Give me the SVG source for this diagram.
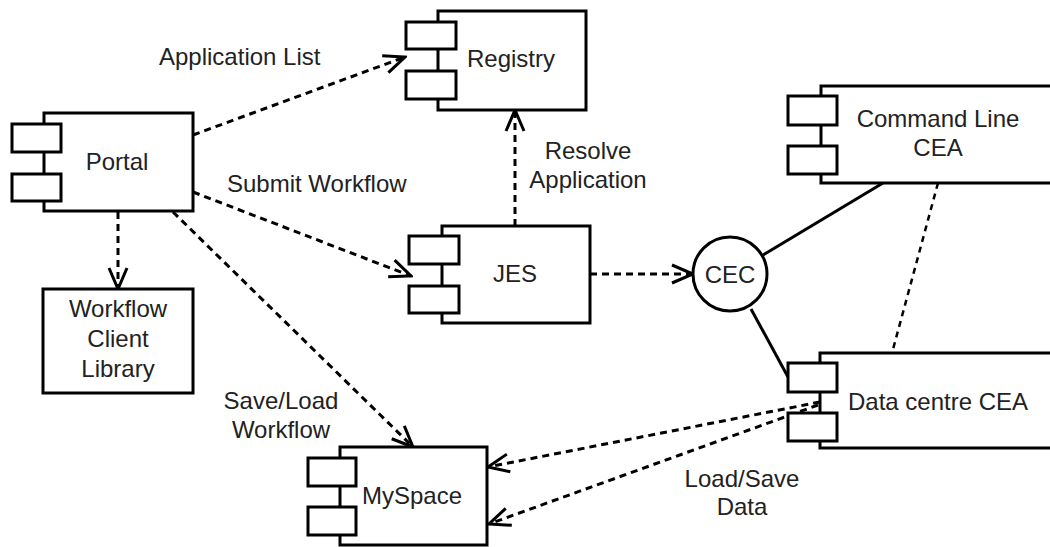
<svg xmlns="http://www.w3.org/2000/svg" width="1050" height="547" viewBox="0 0 1050 547">
<style>
.box{fill:#fff;stroke:#000;stroke-width:3}
.t{font-family:"Liberation Sans",Arial,sans-serif;font-size:24px;fill:#222}
.m{text-anchor:middle}
.dash{fill:none;stroke:#000;stroke-width:3;stroke-dasharray:7 5}
.thin{fill:none;stroke:#000;stroke-width:2.5;stroke-dasharray:6 5}
.solid{fill:none;stroke:#000;stroke-width:3}
</style>
<defs>
<marker id="arr" markerUnits="userSpaceOnUse" viewBox="-24 -12 26 24" refX="0" refY="0" markerWidth="26" markerHeight="24" orient="auto">
<path d="M-21,-9 L0,0 L-21,9" fill="none" stroke="#000" stroke-width="3"/>
</marker>
</defs>
<rect width="1050" height="547" fill="#fff"/>
<g id="connectors">
<line class="dash" x1="193" y1="135" x2="405" y2="57" marker-end="url(#arr)"/>
<line class="dash" x1="193" y1="192" x2="411" y2="276" marker-end="url(#arr)"/>
<line class="dash" x1="118" y1="212" x2="118" y2="289" marker-end="url(#arr)"/>
<line class="dash" x1="173" y1="212" x2="413" y2="447" marker-end="url(#arr)"/>
<line class="dash" x1="515" y1="226" x2="515" y2="110" marker-end="url(#arr)"/>
<line class="dash" x1="590" y1="274" x2="693" y2="274" marker-end="url(#arr)"/>
<line class="solid" x1="763" y1="255" x2="883" y2="183"/>
<line class="solid" x1="751" y1="309" x2="788" y2="377"/>
<line class="thin" x1="938" y1="183" x2="892" y2="353"/>
<line class="dash" x1="820" y1="402" x2="488" y2="467" marker-end="url(#arr)"/>
<line class="dash" x1="818" y1="405" x2="489" y2="524" marker-end="url(#arr)"/>
</g>
<g id="portal">
<rect class="box" x="44" y="113" width="149" height="98"/>
<rect class="box" x="12" y="124" width="49" height="28"/>
<rect class="box" x="12" y="174" width="49" height="27"/>
<text class="t m" x="117" y="170">Portal</text>
</g>
<g id="registry">
<rect class="box" x="438" y="11" width="148" height="99"/>
<rect class="box" x="406" y="22" width="50" height="27"/>
<rect class="box" x="406" y="71" width="50" height="28"/>
<text class="t m" x="511" y="67">Registry</text>
</g>
<g id="jes">
<rect class="box" x="442" y="226" width="148" height="97"/>
<rect class="box" x="409" y="236" width="50" height="28"/>
<rect class="box" x="409" y="286" width="50" height="27"/>
<text class="t m" x="515" y="282">JES</text>
</g>
<g id="cec">
<circle class="box" cx="730" cy="274" r="37"/>
<text class="t m" x="730" y="283">CEC</text>
</g>
<g id="cmdline-cea">
<rect class="box" x="821" y="86" width="240" height="97"/>
<rect class="box" x="788" y="96" width="49" height="29"/>
<rect class="box" x="788" y="146" width="49" height="28"/>
<text class="t m" x="938" y="127">Command Line</text>
<text class="t m" x="938" y="156">CEA</text>
</g>
<g id="datacentre-cea">
<rect class="box" x="820" y="353" width="240" height="95"/>
<rect class="box" x="788" y="363" width="49" height="29"/>
<rect class="box" x="788" y="413" width="49" height="28"/>
<text class="t m" x="938" y="410">Data centre CEA</text>
</g>
<g id="myspace">
<rect class="box" x="340" y="447" width="147" height="98"/>
<rect class="box" x="308" y="458" width="48" height="28"/>
<rect class="box" x="308" y="507" width="48" height="28"/>
<text class="t m" x="412" y="504">MySpace</text>
</g>
<g id="wcl">
<rect class="box" x="43" y="289" width="150" height="104"/>
<text class="t m" x="118" y="317">Workflow</text>
<text class="t m" x="118" y="347">Client</text>
<text class="t m" x="118" y="377">Library</text>
</g>
<g id="labels">
<text class="t" x="159" y="65">Application List</text>
<text class="t" x="227" y="192">Submit Workflow</text>
<text class="t m" x="588" y="159">Resolve</text>
<text class="t m" x="588" y="188">Application</text>
<text class="t m" x="281" y="409">Save/Load</text>
<text class="t m" x="281" y="438">Workflow</text>
<text class="t m" x="742" y="487">Load/Save</text>
<text class="t m" x="742" y="515">Data</text>
</g>
</svg>
